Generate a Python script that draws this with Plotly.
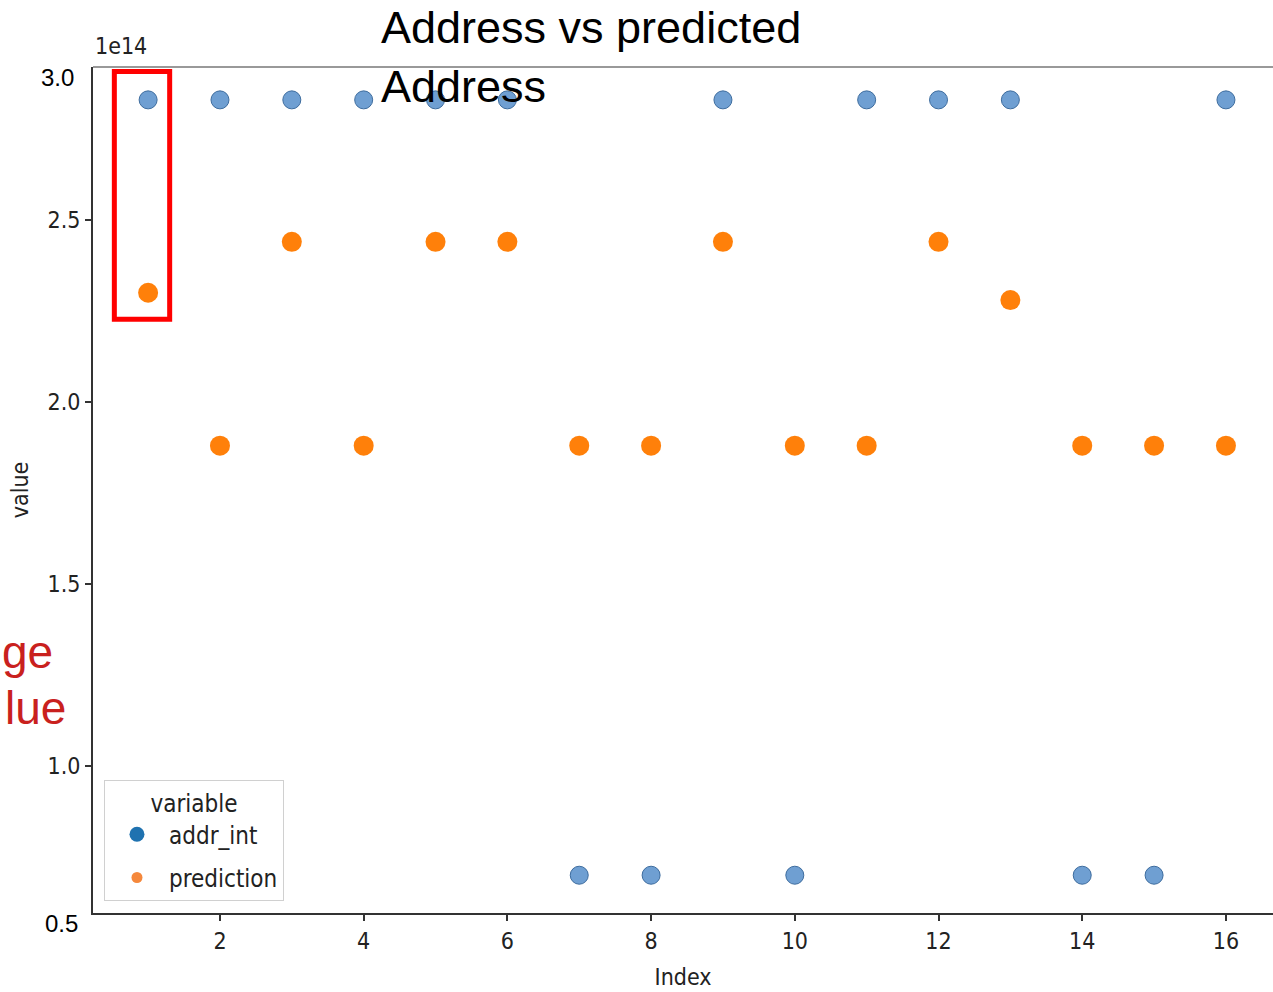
import plotly.graph_objects as go

# ---- data (values in units of 1e14) ----
index = list(range(1, 17))
addr_int = [2.83, 2.83, 2.83, 2.83, 2.83, 2.83, 0.70, 0.70, 2.83, 0.70,
            2.83, 2.83, 2.83, 0.70, 0.70, 2.83]
prediction = [2.30, 1.88, 2.44, 1.88, 2.44, 2.44, 1.88, 1.88, 2.44, 1.88,
              1.88, 2.44, 2.28, 1.88, 1.88, 1.88]
scale = 1e14
y_ticks = [1.0, 1.5, 2.0, 2.5]
x_ticks = [2, 4, 6, 8, 10, 12, 14, 16]
series_names = ["addr_int", "prediction"]

AXFONT = "Liberation Sans Narrow, DejaVu Sans Condensed, DejaVu Sans"
fig = go.Figure()

fig.add_trace(go.Scatter(
    x=index, y=[v * scale for v in prediction], mode="markers",
    marker=dict(size=20, color="#ff800a", line=dict(width=0)),
    showlegend=False, name=series_names[1]))
fig.add_trace(go.Scatter(
    x=index, y=[v * scale for v in addr_int], mode="markers",
    marker=dict(size=18, color="#6f9fd2", line=dict(width=1, color="#3d6c9e")),
    showlegend=False, name=series_names[0]))

# legend entries (seaborn style markers)
fig.add_trace(go.Scatter(x=[None], y=[None], mode="markers", name=series_names[0],
                         legendgroup="a", marker=dict(size=15, color="#1f72b0")))
fig.add_trace(go.Scatter(x=[None], y=[None], mode="markers", name=series_names[1],
                         legendgroup="b", marker=dict(size=11, color="#f5883c")))

fig.update_layout(
    width=1273, height=992,
    margin=dict(l=93, r=0, t=67, b=79),
    paper_bgcolor="white", plot_bgcolor="white",
    font=dict(family=AXFONT, size=23, color="#222"),
    legend=dict(
        x=0.0093, y=0.0142, xanchor="left", yanchor="bottom",
        bgcolor="white", bordercolor="#d0d0d0", borderwidth=1,
        itemwidth=54, tracegroupgap=9,
        font=dict(family=AXFONT, size=24, color="#222"),
        title=dict(text="variable", side="top center",
                   font=dict(family=AXFONT, size=24, color="#222")),
    ),
    xaxis=dict(
        range=[0.233, 16.655], tickvals=x_ticks, ticktext=[str(t) for t in x_ticks],
        showgrid=False, zeroline=False, showline=True, linecolor="#333", linewidth=2,
        ticks="outside", ticklen=6, tickwidth=1.5, tickcolor="#333",
        title=dict(text="Index", standoff=16, font=dict(family=AXFONT, size=23)),
    ),
    yaxis=dict(
        range=[0.5962 * scale, 2.9203 * scale],
        tickvals=[t * scale for t in y_ticks], ticktext=[f"{t:.1f}" for t in y_ticks],
        showgrid=False, zeroline=False, showline=True, linecolor="#333", linewidth=2,
        ticks="outside", ticklen=6, tickwidth=1.5, tickcolor="#333",
        title=dict(text="value", standoff=12, font=dict(family=AXFONT, size=23)),
    ),
)

# top spine
fig.add_shape(type="line", xref="paper", yref="paper", x0=0, x1=1, y0=1, y1=1,
              line=dict(color="#777", width=1.5))
# red highlight rectangle
fig.add_shape(type="rect", xref="x", yref="y", x0=0.53, x1=1.30,
              y0=2.227 * scale, y1=2.908 * scale,
              line=dict(color="#ff0000", width=5))

# offset text
fig.add_annotation(text="1e14", xref="paper", yref="paper", x=0.0, y=1.007,
                   xanchor="left", yanchor="bottom", showarrow=False,
                   font=dict(family=AXFONT, size=23, color="#222"))
# overlay axis-end labels
fig.add_annotation(text="3.0", xref="paper", yref="paper", x=-0.0305, y=0.987,
                   xanchor="center", yanchor="middle", showarrow=False,
                   font=dict(family="Liberation Sans, Arial", size=24, color="black"))
fig.add_annotation(text="0.5", xref="paper", yref="paper", x=-0.0263, y=-0.013,
                   xanchor="center", yanchor="middle", showarrow=False,
                   font=dict(family="Liberation Sans, Arial", size=24, color="black"))
# title overlay
fig.add_annotation(text="Address vs predicted<br>Address", xref="paper", yref="paper",
                   x=0.2433, y=(913 - 1) / 846, xanchor="left", yanchor="top", align="left",
                   showarrow=False, borderpad=0,
                   font=dict(family="Liberation Sans, Arial", size=45, color="black"))
# red side text
fig.add_annotation(text="ge", xref="paper", yref="paper", x=(1 - 93) / 1180,
                   y=(913 - 652) / 846, xanchor="left", yanchor="middle",
                   showarrow=False, borderpad=0,
                   font=dict(family="Liberation Sans, Arial", size=46, color="#c9211e"))
fig.add_annotation(text="lue", xref="paper", yref="paper", x=(68 - 93) / 1180,
                   y=(913 - 708) / 846, xanchor="right", yanchor="middle",
                   showarrow=False,
                   font=dict(family="Liberation Sans, Arial", size=46, color="#c9211e"))

fig.write_html("out.html")
